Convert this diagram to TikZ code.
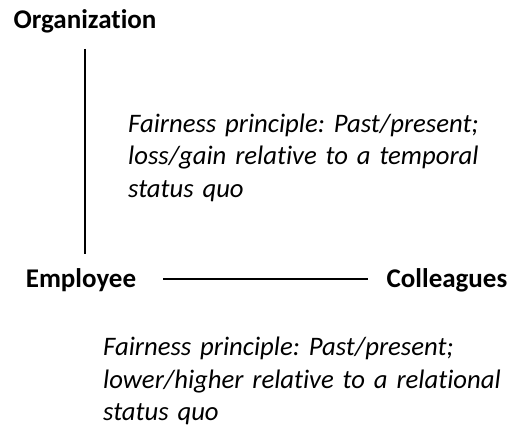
\documentclass[tikz,border=0pt]{standalone}
\usepackage{fontspec}
\setmainfont[Ligatures={NoCommon,NoContextual}]{Carlito}
\frenchspacing
\usetikzlibrary{positioning}

\begin{document}
\begin{tikzpicture}[x=1pt, y=-1pt]
	\tikzset{
		party/.style={font=\bfseries\fontsize{27}{32}\selectfont, inner sep=0pt, anchor=base},
		principle/.style={font=\itshape\fontsize{26.7}{32.5}\selectfont, align=left, text width=420pt, inner sep=0pt, anchor=base west},
		tie/.style={line width=1.5pt}
	}
	\useasboundingbox (0,0) rectangle (509,428);
	
	\node[party] (org) at (85,29) {Organization};
	\node[party] (emp) at (81,287) {Employee};
	\node[party] (coll) at (447,287) {Colleagues};
	
	\node[principle] (past) at (128,132) {Fairness principle: Past/present;\\ loss/gain relative to a temporal\\ status quo};
	\node[principle] (rel) at (103,355.5) {Fairness principle: Past/present;\\ lower/higher relative to a relational\\ status quo};
	
	\draw[tie, shorten <=20pt, shorten >=33pt] (org.base) -- (org.base |- emp.base);
	\draw[tie, shorten <=27pt, shorten >=18pt] (emp.east |- 0,279) -- (coll.west |- 0,279);
	
\end{tikzpicture}
\end{document}
